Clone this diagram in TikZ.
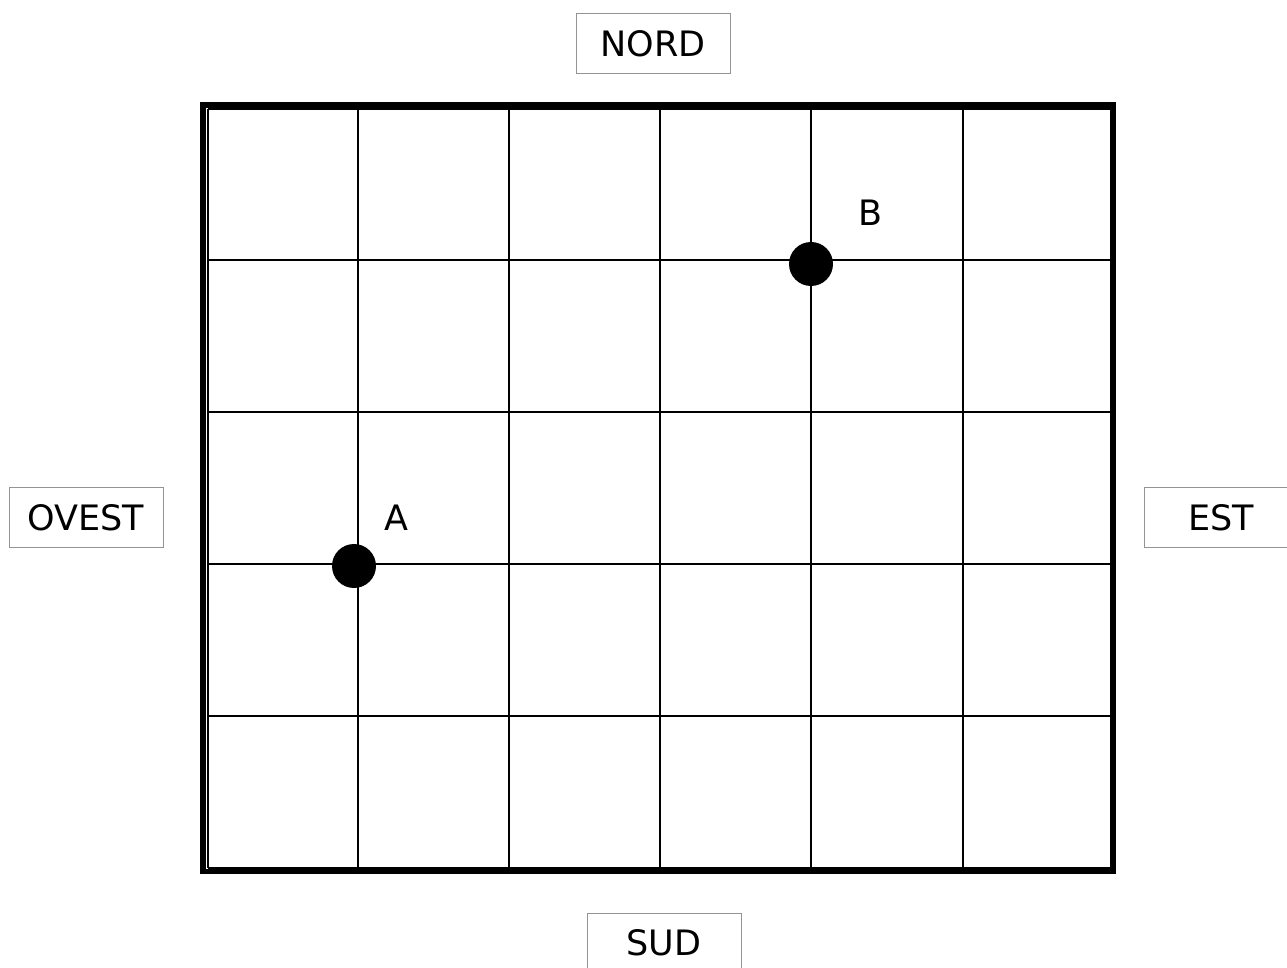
\documentclass[tikz,border=0pt]{standalone}
\usepackage{fontspec}
\setmainfont{DejaVu Sans}
\begin{document}
\begin{tikzpicture}[x=0.5pt,y=-0.5pt,
  dirbox/.style={draw=black!42,line width=0.5pt,minimum width=77pt,minimum height=30pt,inner sep=0pt,font=\fontsize{17.5}{20}\selectfont},
  ptlabel/.style={inner sep=0pt,font=\fontsize{17.5}{20}\selectfont},
  gridline/.style={line width=1pt,black},
  frame/.style={line width=2.8pt,black},
  dot/.style={circle,fill=black,inner sep=0pt,minimum size=22pt}]
\clip (0,0) rectangle (1287,968);
\useasboundingbox (0,0) rectangle (1287,968);
% grid lines
\foreach \x in {207.5,358,509,660,811,963,1111}
  \draw[gridline] (\x,109) -- (\x,868);
\foreach \y in {109,260,412,564,716,868}
  \draw[gridline] (207.5,\y) -- (1111,\y);
% thick frame
\draw[frame] (203,105) rectangle (1113.5,871.5);
% points
\node[dot] (dotA) at (354,566) {};
\node[dot] (dotB) at (811,264) {};
\node[ptlabel] (labA) at (396,518) {A};
\node[ptlabel] (labB) at (870,213) {B};
% direction boxes
\node[dirbox] (nord) at (653,44) {NORD};
\node[dirbox] (sud) at (664,943) {SUD};
\node[dirbox] (ovest) at (86,518) {OVEST};
\node[dirbox] (est) at (1221,518) {EST};
\end{tikzpicture}
\end{document}
